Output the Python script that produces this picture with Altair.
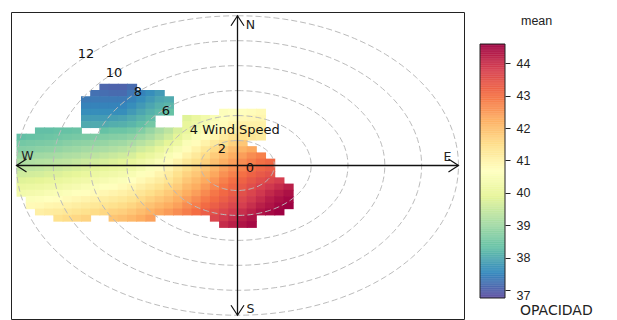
import altair as alt
import pandas as pd

# ---------------- colour scale / key ----------------
colour_stops = [36.75, 37.535, 38.32, 39.105, 39.89, 40.675, 41.46, 42.245, 43.03, 43.815, 44.6]
colour_range = ["#5E4FA2", "#3288BD", "#66C2A5", "#ABDDA4", "#E6F598", "#FFFFBF",
                "#FEE08B", "#FDAE61", "#F46D43", "#D53E4F", "#9E0142"]
legend_ticks = [37, 38, 39, 40, 41, 42, 43, 44]
legend_title = ["mean"]
legend_footer = ["OPACIDAD"]

# ---------------- polar frame ----------------
ws_circles = [2, 4, 6, 8, 10, 12]
ws_label_r = [0, 2, 4, 6, 8, 10, 12]
ws_label_text = ["0", "2", "4 Wind Speed", "6", "8", "10", "12"]
direction_names = ["N", "E", "S", "W"]
direction_angle = [0, 90, 180, 270]

# ---------------- smoothed surface (mean OPACIDAD), 0.5 wind-speed cells ----------------
# (row v, first u of segment, values of consecutive cells)
cell_size = 0.5
surface_rows = [
    (6.0, -7.5, [37.06, 37.03, 37.03, 37.14]),
    (5.5, -8.0, [37.22, 37.18, 37.14, 37.14, 37.3, 37.46, 37.61, 37.77]),
    (5.0, -8.5, [37.34, 37.34, 37.34, 37.34, 37.34, 37.46, 37.61, 37.77, 37.93, 38.0]),
    (4.5, -8.5, [37.46, 37.46, 37.46, 37.46, 37.5, 37.61, 37.77, 37.93, 38.08, 38.16]),
    (4.0, -8.5, [37.61, 37.61, 37.61, 37.61, 37.61, 37.77, 37.93, 38.08, 38.2, 38.32]),
    (4.0, -1.0, [40.6, 40.68, 40.7, 40.75, 40.83]),
    (3.5, -8.5, [37.81, 37.81, 37.81, 37.85, 37.89, 38.0, 38.12, 38.24]),
    (3.5, -3.0, [39.81, 40.05, 40.28, 40.48, 40.64, 40.75, 40.83, 40.87, 40.91]),
    (3.0, -8.5, [38.0, 38.0, 38.0, 38.05, 38.08, 38.16, 38.28, 38.48]),
    (3.0, -3.0, [39.97, 40.16, 40.4, 40.6, 40.75, 40.91, 41.03, 41.03, 41.03]),
    (2.5, -11.0, [38.28, 38.28, 38.32, 38.32, 38.36]),
    (2.5, -7.5, [38.32, 38.4, 38.4, 38.48, 38.63, 38.87, 39.1, 39.34, 39.7, 40.0, 40.32,
                 40.52, 40.71, 40.91, 41.07, 41.22, 41.15, 41.1]),
    (2.0, -12.0, [38.28, 38.32, 38.36, 38.4, 38.44, 38.48, 38.52, 38.56, 38.59, 38.63, 38.67,
                  38.71, 38.79, 38.95, 39.1, 39.34, 39.58, 39.9, 40.2, 40.52, 40.71, 40.91,
                  41.15, 41.38, 41.46, 41.3, 41.19]),
    (1.5, -12.0, [38.48, 38.52, 38.56, 38.59, 38.63, 38.71, 38.75, 38.79, 38.83, 38.87, 38.95,
                  38.99, 39.1, 39.26, 39.42, 39.65, 39.89, 40.13, 40.52, 40.75, 40.99, 41.22,
                  41.46, 41.7, 41.85]),
    (1.0, -12.0, [38.67, 38.71, 38.75, 38.79, 38.83, 38.91, 38.95, 39.03, 39.07, 39.1, 39.18,
                  39.26, 39.38, 39.58, 39.73, 39.97, 40.2, 40.44, 40.75, 40.99, 41.26, 41.54,
                  41.77, 42.01, 42.17, 42.32]),
    (0.5, -12.0, [38.91, 38.95, 38.99, 39.03, 39.07, 39.14, 39.18, 39.26, 39.34, 39.42, 39.5,
                  39.58, 39.69, 39.89, 40.05, 40.24, 40.48, 40.71, 40.99, 41.22, 41.5, 41.77,
                  42.01, 42.25, 42.44, 42.64, 42.79]),
    (0.0, -12.0, [39.14, 39.18, 39.22, 39.26, 39.34, 39.38, 39.46, 39.54, 39.62, 39.69, 39.77,
                  39.85, 39.97, 40.16, 40.32, 40.52, 40.75, 40.99, 41.26, 41.46, 41.7, 41.97,
                  42.21, 42.44, 42.64, 42.83, 42.99, 43.11]),
    (-0.5, -12.0, [39.34, 39.38, 39.42, 39.5, 39.54, 39.62, 39.69, 39.77, 39.85, 39.93, 40.01,
                   40.09, 40.2, 40.36, 40.56, 40.75, 40.95, 41.22, 41.46, 41.66, 41.89, 42.13,
                   42.4, 42.6, 42.79, 42.99, 43.15, 43.27]),
    (-1.0, -12.0, [39.58, 39.62, 39.65, 39.73, 39.77, 39.85, 39.93, 40.01, 40.09, 40.17, 40.24,
                   40.32, 40.44, 40.6, 40.75, 40.95, 41.15, 41.42, 41.66, 41.85, 42.09, 42.32,
                   42.6, 42.79, 42.99, 43.19, 43.34, 43.46]),
    (-1.5, -12.0, [39.81, 39.85, 39.89, 39.97, 40.01, 40.09, 40.17, 40.24, 40.32, 40.4, 40.48,
                   40.56, 40.68, 40.83, 40.99, 41.15, 41.34, 41.58, 41.85, 42.05, 42.28, 42.52,
                   42.79, 42.99, 43.19, 43.38, 43.54, 43.66, 43.82]),
    (-2.0, -12.0, [40.05, 40.09, 40.13, 40.2, 40.24, 40.32, 40.4, 40.48, 40.56, 40.64, 40.71,
                   40.79, 40.91, 41.07, 41.22, 41.38, 41.58, 41.77, 42.05, 42.25, 42.48, 42.72,
                   42.95, 43.15, 43.34, 43.54, 43.74, 43.89, 44.05, 44.21]),
    (-2.5, -12.0, [40.28, 40.32, 40.36, 40.44, 40.48, 40.56, 40.64, 40.71, 40.79, 40.87, 40.95,
                   41.03, 41.15, 41.3, 41.46, 41.62, 41.81, 42.01, 42.25, 42.44, 42.68, 42.91,
                   43.11, 43.3, 43.5, 43.7, 43.89, 44.09, 44.25, 44.4]),
    (-3.0, -11.5, [40.56, 40.6, 40.68, 40.71, 40.79, 40.87, 40.95, 41.03, 41.11, 41.19, 41.26,
                   41.38, 41.54, 41.7, 41.85, 42.01, 42.21, 42.44, 42.64, 42.87, 43.07, 43.27,
                   43.46, 43.66, 43.86, 44.05, 44.25, 44.4, 44.52]),
    (-3.5, -11.5, [40.79, 40.83, 40.91, 40.95, 41.03, 41.11, 41.19, 41.26, 41.34, 41.42, 41.5,
                   41.62, 41.77, 41.93, 42.09, 42.25, 42.4, 42.64, 42.83, 43.07, 43.27, 43.46,
                   43.66, 43.82, 44.01, 44.21, 44.36, 44.52, 44.6]),
    (-4.0, -11.0, [41.07, 41.15, 41.19, 41.26, 41.34, 41.42, 41.5, 41.58, 41.66, 41.73, 41.85,
                   42.01, 42.17, 42.32, 42.48, 42.64, 42.83, 43.03, 43.27, 43.46, 43.66, 43.86,
                   44.01, 44.17, 44.36, 44.48, 44.6]),
    (-4.5, -10.0, [41.42, 41.5, 41.58, 41.66]),
    (-4.5, -7.0, [41.89, 41.97, 42.09, 42.25, 42.4]),
    (-4.5, -1.5, [43.66, 43.86, 44.05, 44.21, 44.36]),
    (-5.0, -1.0, [44.05, 44.21, 44.36, 44.48]),
]

records = []
for v0, u0, vals in surface_rows:
    for i, val in enumerate(vals):
        records.append({"u": u0 + cell_size * i, "v": v0, "mean": val})
surface_df = pd.DataFrame(records)

extent = 12.3
rmax = max(ws_circles)
xs = alt.Scale(domain=[-extent, extent], nice=False, zero=False)
ys = alt.Scale(domain=[-extent, extent], nice=False, zero=False)
cscale = alt.Scale(domain=colour_stops, range=colour_range, interpolate="rgb")


def X(f):
    return alt.X(f, type="quantitative", scale=xs, axis=None)


def Y(f):
    return alt.Y(f, type="quantitative", scale=ys, axis=None)


surface = alt.Chart(surface_df).transform_calculate(
    u2=f"datum.u + {cell_size} + 0.05", v2=f"datum.v + {cell_size} + 0.05"
).mark_rect(clip=True, strokeWidth=0).encode(
    x=X("u"), x2="u2:Q", y=Y("v"), y2="v2:Q",
    color=alt.Color("mean:Q", scale=cscale, legend=None),
)

circles = alt.Chart(pd.DataFrame({"r": ws_circles})).transform_calculate(
    deg="sequence(0, 362, 2)"
).transform_flatten(["deg"]).transform_calculate(
    cu="datum.r * sin(datum.deg * PI / 180)",
    cv="datum.r * cos(datum.deg * PI / 180)",
).mark_line(color="#bbbbbb", strokeDash=[6, 3], strokeWidth=1, clip=True).encode(
    x=X("cu"), y=Y("cv"), detail="r:N", order="deg:Q"
)

dirs = alt.Chart(pd.DataFrame({"name": direction_names, "ang": direction_angle})).transform_calculate(
    tu=f"{rmax} * sin(datum.ang * PI / 180)",
    tv=f"{rmax} * cos(datum.ang * PI / 180)",
    z="0",
)
rules = dirs.mark_rule(color="#111111", strokeWidth=1.3).encode(
    x=X("z"), y=Y("z"), x2="tu:Q", y2="tv:Q"
)
heads = dirs.mark_point(shape="M-0.65,1L0,0L0.65,1", filled=False, size=400,
                        color="#111111", strokeWidth=1.2, opacity=1).encode(
    x=X("tu"), y=Y("tv"), angle=alt.Angle("ang:Q", scale=None)
)
label_offsets = {"N": (13, 9), "E": (-11, -9), "S": (13, -6), "W": (11, -10)}
dir_labels = [
    dirs.transform_filter(f"datum.name == '{n}'").mark_text(
        dx=dx, dy=dy, font="DejaVu Sans", fontSize=12.5, color="#222222"
    ).encode(x=X("tu"), y=Y("tv"), text="name:N")
    for n, (dx, dy) in label_offsets.items()
]

ws_labels = alt.Chart(pd.DataFrame({"r": ws_label_r, "t": ws_label_text})).transform_calculate(
    lu="-0.76 * datum.r + 0.45", lv="0.76 * datum.r - 0.2"
).mark_text(align="left", baseline="middle", font="DejaVu Sans", fontSize=13,
            color="#111111").encode(x=X("lu"), y=Y("lv"), text="t:N")

main = alt.layer(surface, circles, rules, heads, *dir_labels, ws_labels).properties(
    width=453, height=307, view=alt.ViewBackground(stroke="#222222", strokeWidth=1)
)

# ---------------- colour key ----------------
ly = alt.Scale(domain=[36.101, 45.589], nice=False, zero=False)
bar = alt.Chart(alt.sequence(colour_stops[0], colour_stops[-1], 0.02, as_="lv")).transform_calculate(
    lv2=f"min(datum.lv + 0.03, {colour_stops[-1]})"
).mark_rect(strokeWidth=0).encode(
    y=alt.Y("lv:Q", scale=ly, axis=alt.Axis(orient="right", values=legend_ticks, tickSize=5,
                                            tickColor="#222222", labelPadding=6, domain=False,
                                            grid=False, title=None, labelFont="Liberation Sans",
                                            labelFontSize=12.5, labelColor="#222222",
                                            labelOffset=alt.ExprRef("datum.value == 37 ? 6 : 0"))),
    y2="lv2:Q",
    color=alt.Color("lv:Q", scale=cscale, legend=None),
)
border = alt.Chart(pd.DataFrame({"lo": [colour_stops[0]], "hi": [colour_stops[-1]]})).mark_rect(
    fillOpacity=0, stroke="#222222", strokeWidth=1
).encode(y=alt.Y("lo:Q", scale=ly), y2="hi:Q")
title_txt = alt.Chart(pd.DataFrame({"t": legend_title})).mark_text(
    align="left", baseline="alphabetic", font="Liberation Sans", fontSize=12.5, color="#222222"
).encode(x=alt.value(41), y=alt.value(13), text="t:N")
footer_txt = alt.Chart(pd.DataFrame({"t": legend_footer})).mark_text(
    align="left", baseline="alphabetic", font="DejaVu Sans", fontSize=14, color="#222222"
).encode(x=alt.value(40), y=alt.value(303), text="t:N")

key = alt.layer(bar, border, title_txt, footer_txt).properties(width=25, height=307)

chart = alt.hconcat(main, key, spacing=14).properties(
    padding={"left": 2, "top": 3, "right": 0, "bottom": 0}
).configure_view(stroke=None)

chart.save("out.html", embed_options={"renderer": "svg", "actions": False})
